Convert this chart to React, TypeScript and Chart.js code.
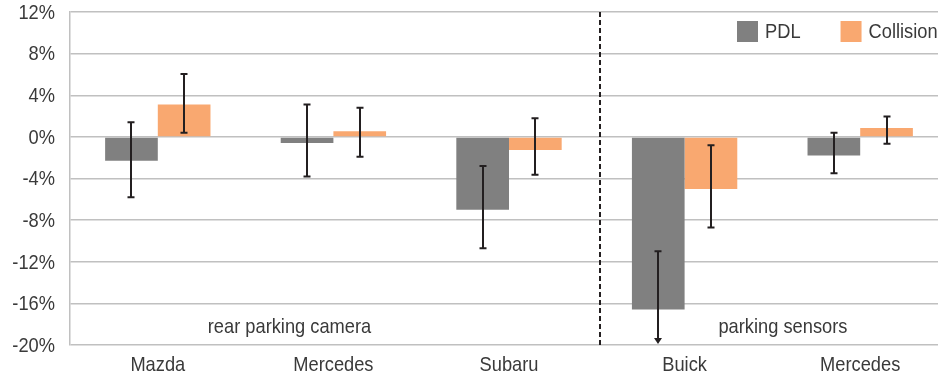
import React, { useEffect, useRef } from "react";
import { Chart, registerables } from "chart.js";

Chart.register(...registerables);

// Vehicle makes, grouped by the kind of parking aid they carry
const categories = ["Mazda", "Mercedes", "Subaru", "Buick", "Mercedes"];

// Estimated change in claim frequency (%) with 95% confidence limits
const pdlValues = [-2.3, -0.6, -7.0, -16.6, -1.8];
const pdlLow = [-5.8, -3.8, -10.7, -22.2, -3.5];
const pdlHigh = [1.4, 3.1, -2.8, -11.0, 0.4];

const collisionValues = [3.1, 0.55, -1.25, -5.0, 0.85];
const collisionLow = [0.4, -1.9, -3.65, -8.7, -0.65];
const collisionHigh = [6.05, 2.8, 1.8, -0.8, 1.95];

const yMin = -20;
const yMax = 12;
const yStep = 4;

// Group captions, placed in category units along the x scale
const groupLabels = [
  { text: "rear parking camera", at: 0.75 },
  { text: "parking sensors", at: 3.56 },
];
// Divider between the two groups (category units)
const dividerAt = 2.52;

const FONT = "'Liberation Sans', Arial, sans-serif";
const FONT_SIZE = 21;
const STRETCH = 0.87; // horizontal squeeze for a condensed look
const TEXT_COLOR = "#3a3a3a";
const PDL_COLOR = "#808080";
const COLLISION_COLOR = "#F9A870";
const GRID_COLOR = "#C0C0C0";
const INK = "#231f20";

function condensedText(
  ctx: CanvasRenderingContext2D,
  text: string,
  x: number,
  y: number,
  align: CanvasTextAlign
) {
  ctx.save();
  ctx.translate(x, y);
  ctx.scale(STRETCH, 1);
  ctx.textAlign = align;
  ctx.textBaseline = "middle";
  ctx.fillText(text, 0, 0);
  ctx.restore();
}

const errorBarPlugin = {
  id: "errorBars",
  afterDatasetsDraw(chart: any) {
    const { ctx, chartArea } = chart;
    const y = chart.scales.y;
    ctx.save();
    ctx.strokeStyle = INK;
    ctx.fillStyle = INK;
    ctx.lineWidth = 2;
    chart.data.datasets.forEach((ds: any, di: number) => {
      const meta = chart.getDatasetMeta(di);
      meta.data.forEach((bar: any, i: number) => {
        const lo = ds.errorLow[i];
        const hi = ds.errorHigh[i];
        let yLo = y.getPixelForValue(lo);
        const yHi = y.getPixelForValue(hi);
        const clipped = yLo > chartArea.bottom;
        if (clipped) yLo = chartArea.bottom - 1;
        const x = Math.round(bar.x);
        const cap = 3.5;
        ctx.beginPath();
        ctx.moveTo(x, yHi);
        ctx.lineTo(x, clipped ? yLo - 3 : yLo);
        ctx.moveTo(x - cap, yHi);
        ctx.lineTo(x + cap, yHi);
        if (!clipped) {
          ctx.moveTo(x - cap, yLo);
          ctx.lineTo(x + cap, yLo);
        }
        ctx.stroke();
        if (clipped) {
          // value runs past the axis floor: finish with an arrow head
          ctx.beginPath();
          ctx.moveTo(x - 4, yLo - 6);
          ctx.lineTo(x, yLo);
          ctx.lineTo(x + 4, yLo - 6);
          ctx.closePath();
          ctx.fill();
        }
      });
    });
    ctx.restore();
  },
};

const annotationsPlugin = {
  id: "groupAnnotations",
  afterDraw(chart: any) {
    const { ctx, chartArea } = chart;
    const x = chart.scales.x;
    const y = chart.scales.y;
    ctx.save();

    // dashed divider between groups
    const dx = Math.round(x.getPixelForValue(dividerAt));
    ctx.strokeStyle = INK;
    ctx.lineWidth = 2;
    ctx.setLineDash([5, 3]);
    ctx.beginPath();
    ctx.moveTo(dx, chartArea.top);
    ctx.lineTo(dx, chartArea.bottom);
    ctx.stroke();
    ctx.setLineDash([]);

    ctx.fillStyle = TEXT_COLOR;
    ctx.font = `${FONT_SIZE}px ${FONT}`;

    // y tick labels
    y.ticks.forEach((t: any) => {
      condensedText(ctx, `${t.value}%`, chartArea.left - 15, y.getPixelForValue(t.value) + 1, "right");
    });

    // category labels
    chart.data.labels.forEach((lab: string, i: number) => {
      condensedText(ctx, lab, x.getPixelForValue(i), chartArea.bottom + 20, "center");
    });

    // group captions
    groupLabels.forEach((g) => {
      condensedText(ctx, g.text, x.getPixelForValue(g.at), chartArea.bottom - 18, "center");
    });

    // legend, top right inside the plot
    let lx = chartArea.right - 211;
    const boxTop = chartArea.top + 9;
    const box = 21;
    chart.data.datasets.forEach((ds: any) => {
      ctx.fillStyle = ds.backgroundColor;
      ctx.fillRect(lx, boxTop, box, box);
      lx += box + 7;
      ctx.fillStyle = TEXT_COLOR;
      condensedText(ctx, ds.label, lx, boxTop + box / 2 + 1, "left");
      lx += ctx.measureText(ds.label).width * STRETCH + 40;
    });
    ctx.restore();
  },
};

export default function App() {
  const canvasRef = useRef<HTMLCanvasElement | null>(null);

  useEffect(() => {
    if (!canvasRef.current) return;
    const chart = new Chart(canvasRef.current, {
      type: "bar",
      data: {
        labels: categories,
        datasets: [
          {
            label: "PDL",
            data: pdlValues,
            backgroundColor: PDL_COLOR,
            errorLow: pdlLow,
            errorHigh: pdlHigh,
          } as any,
          {
            label: "Collision",
            data: collisionValues,
            backgroundColor: COLLISION_COLOR,
            errorLow: collisionLow,
            errorHigh: collisionHigh,
          } as any,
        ],
      },
      options: {
        responsive: false,
        animation: false,
        devicePixelRatio: 1,
        layout: { padding: { top: 12, right: 12, left: 0, bottom: 0 } },
        datasets: {
          bar: { categoryPercentage: 0.6, barPercentage: 1.0 },
        },
        plugins: {
          legend: { display: false },
          tooltip: { enabled: false },
        },
        scales: {
          x: {
            grid: { display: false, drawTicks: false },
            border: { display: false },
            ticks: { display: false },
            afterFit(scale: any) {
              scale.height = 34;
            },
          },
          y: {
            min: yMin,
            max: yMax,
            grid: { color: GRID_COLOR, lineWidth: 1.5, drawTicks: false },
            border: { display: true, color: GRID_COLOR, width: 1.5 },
            ticks: { display: false, stepSize: yStep },
            afterFit(scale: any) {
              scale.width = 70;
            },
          },
        },
      },
      plugins: [errorBarPlugin, annotationsPlugin],
    });
    return () => chart.destroy();
  }, []);

  return (
    <div
      style={{
        position: "fixed",
        left: 0,
        top: 0,
        width: 938,
        height: 379,
        overflow: "hidden",
        background: "#fff",
      }}
    >
      <canvas ref={canvasRef} width={960} height={379} />
    </div>
  );
}
